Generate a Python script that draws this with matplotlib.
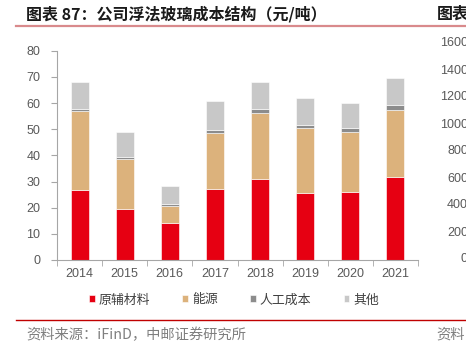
import numpy as np
import matplotlib
matplotlib.use("Agg")
import matplotlib.pyplot as plt
from matplotlib.lines import Line2D

plt.rcParams["font.family"] = ["Liberation Sans", "Noto Sans CJK SC", "DejaVu Sans"]

years = ["2014", "2015", "2016", "2017", "2018", "2019", "2020", "2021"]
materials = [26.8, 19.5, 14.3, 27.1, 31.1, 25.7, 26.1, 31.8]
energy = [30.2, 19.1, 6.5, 21.6, 25.2, 24.9, 22.8, 25.5]
labor = [0.7, 0.9, 0.7, 0.9, 1.3, 1.0, 1.6, 2.0]
other = [10.5, 9.3, 6.8, 11.1, 10.3, 10.5, 9.5, 10.4]

series = [
    ("原辅材料", materials, "#e60012"),
    ("能源", energy, "#dcb27c"),
    ("人工成本", labor, "#8c8c8c"),
    ("其他", other, "#c8c8c8"),
]

W, H = 466, 347
fig = plt.figure(figsize=(W / 100, H / 100), dpi=100)
ax = fig.add_axes([57 / W, 1 - 260 / H, 361 / W, 209.3 / H])

x = np.arange(len(years))
bottom = np.zeros(len(years))
handles = []
for name, vals, color in series:
    b = ax.bar(x, vals, width=0.4, bottom=bottom, color=color,
               edgecolor="white", linewidth=0.4, label=name)
    bottom += np.array(vals)
    handles.append(b)

tick_gray = "#595959"
axis_gray = "#a6a6a6"
ax.set_xlim(-0.5, len(years) - 0.5)
ax.set_ylim(0, 80)
ax.set_yticks(range(0, 81, 10))
ax.set_xticks(x)
ax.set_xticklabels(years)
ax.set_xticks(np.arange(-0.5, len(years)), minor=True)
ax.tick_params(axis="x", which="major", length=0, pad=6, labelsize=9, labelcolor=tick_gray)
ax.tick_params(axis="x", which="minor", length=4, color=axis_gray, direction="out")
ax.tick_params(axis="y", length=4, color=axis_gray, labelsize=9, labelcolor=tick_gray, pad=8)
for s in ["top", "right"]:
    ax.spines[s].set_visible(False)
for s in ["left", "bottom"]:
    ax.spines[s].set_color(axis_gray)
    ax.spines[s].set_linewidth(0.8)

# neighbouring panel's value axis, cut off at the right edge
right_ticks = list(range(0, 1601, 200))
ax2 = fig.add_axes([479 / W, 1 - 258 / H, 100 / W, 216 / H])
ax2.set_ylim(0, 1600)
ax2.set_yticks(right_ticks)
ax2.tick_params(axis="y", length=0, labelsize=9, labelcolor=tick_gray, pad=8)
ax2.set_xticks([])
for s in ax2.spines.values():
    s.set_visible(False)
ax2.patch.set_visible(False)

# titles and header rule
title_kw = dict(fontsize=11.5, fontweight="bold", color="#1a1a1a",
                family=["Noto Sans CJK SC", "DejaVu Sans"], va="center")
fig.text(26 / W, 1 - 14 / H, "图表 87：公司浮法玻璃成本结构（元/吨）", **title_kw)
fig.text(437 / W, 1 - 14 / H, "图表", **title_kw)
fig.add_artist(Line2D([16 / W, 1], [1 - 26 / H] * 2, color="#d98a8c", linewidth=1.6))

fig.legend(handles=handles, labels=[s[0] for s in series], loc="center",
           bbox_to_anchor=(234 / W, 1 - 300 / H), ncol=4, frameon=False,
           handlelength=0.45, handleheight=0.45, handletextpad=0.3,
           columnspacing=2.5, prop={"family": ["Noto Sans CJK SC"], "size": 9.3},
           labelcolor="#404040")

# source footer
fig.add_artist(Line2D([16 / W, 1], [1 - 320 / H] * 2, color="#c00000", linewidth=1.0))
src_kw = dict(fontsize=10.3, color="#7f7f7f", family=["Noto Sans CJK SC", "DejaVu Sans"],
              fontweight="light", va="center")
fig.text(26 / W, 1 - 335 / H, "资料来源：iFinD，中邮证券研究所", **src_kw)
fig.text(436 / W, 1 - 335 / H, "资料", **src_kw)

fig.savefig("out.png", dpi=100)
